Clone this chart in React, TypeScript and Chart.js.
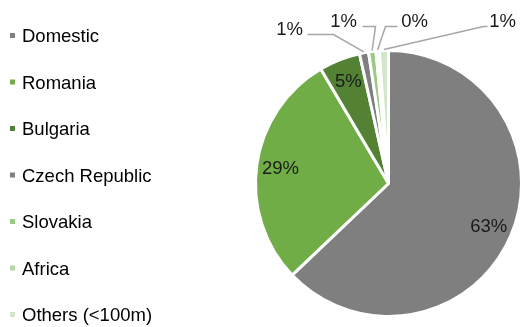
import React, { useEffect, useRef } from "react";
import { Chart, registerables } from "chart.js";

Chart.register(...registerables);

const categories = ["Domestic", "Romania", "Bulgaria", "Czech Republic", "Slovakia", "Africa", "Others (<100m)"];
const shares = [62.9, 28.6, 5.0, 1.1, 0.9, 0.4, 1.1];
const sliceColors = ["#7F7F7F", "#70AD47", "#548235", "#7F7F7F", "#9DC986", "#B6D6A4", "#D3E6C9"];

// external label placement (relative to pie centre) for the small slices
const outside = [
  null, null, null,
  { lx: -99, ly: -154, sx: -81, sy: -149, ex: -55, ey: -149 },
  { lx: -45, ly: -162, sx: -26, sy: -157, ex: -13, ey: -157 },
  { lx: 26, ly: -162, sx: 9, sy: -157, ex: -3, ey: -157 },
  { lx: 114, ly: -162, sx: 99, sy: -157, ex: 95, ey: -157 },
];

const FONT = "'Liberation Sans', Arial, sans-serif";

const overlay = {
  id: "overlay",
  afterDraw(chart: any) {
    const ctx = chart.ctx;
    const meta = chart.getDatasetMeta(0);
    const data = chart.data.datasets[0].data as number[];
    ctx.save();
    // legend
    ctx.font = `18.5px ${FONT}`;
    ctx.textBaseline = "middle";
    ctx.textAlign = "left";
    chart.data.labels.forEach((lab: string, i: number) => {
      const y = 36 + i * 46.5;
      ctx.fillStyle = sliceColors[i];
      ctx.fillRect(10, y - 3, 5, 5);
      ctx.fillStyle = "#000000";
      ctx.fillText(lab, 22, y + 1);
    });
    // slice labels
    meta.data.forEach((arc: any, i: number) => {
      const { x, y, startAngle, endAngle, outerRadius } = arc.getProps(
        ["x", "y", "startAngle", "endAngle", "outerRadius"], true);
      const mid = (startAngle + endAngle) / 2;
      const txt = Math.round(data[i]) + "%";
      ctx.fillStyle = "#1a1a1a";
      ctx.textAlign = "center";
      ctx.textBaseline = "middle";
      const o = outside[i];
      if (!o) {
        const r = outerRadius * 0.82;
        ctx.fillText(txt, x + Math.cos(mid) * r, y + Math.sin(mid) * r);
      } else {
        const px = x + Math.cos(mid) * (outerRadius + 1);
        const py = y + Math.sin(mid) * (outerRadius + 1);
        ctx.strokeStyle = "#A6A6A6";
        ctx.lineWidth = 1.5;
        ctx.beginPath();
        ctx.moveTo(x + o.sx, y + o.sy);
        ctx.lineTo(x + o.ex, y + o.ey);
        ctx.lineTo(px, py);
        ctx.stroke();
        ctx.fillText(txt, x + o.lx, y + o.ly);
      }
    });
    ctx.restore();
  },
};

export default function App() {
  const ref = useRef<HTMLCanvasElement>(null);
  useEffect(() => {
    if (!ref.current) return;
    const chart = new Chart(ref.current, {
      type: "pie",
      data: {
        labels: categories,
        datasets: [{
          data: shares,
          backgroundColor: sliceColors,
          borderColor: "#FFFFFF",
          borderWidth: 3,
        }],
      },
      options: {
        animation: false,
        responsive: false,
        layout: { padding: { left: 254, top: 49, right: 1, bottom: 9 } },
        plugins: { legend: { display: false }, tooltip: { enabled: false } },
      },
      plugins: [overlay],
    });
    return () => chart.destroy();
  }, []);
  return (
    <div style={{ position: "fixed", left: 0, top: 0, width: 524, height: 327, background: "#fff" }}>
      <canvas ref={ref} width={524} height={327} style={{ width: 524, height: 327 }} />
    </div>
  );
}
